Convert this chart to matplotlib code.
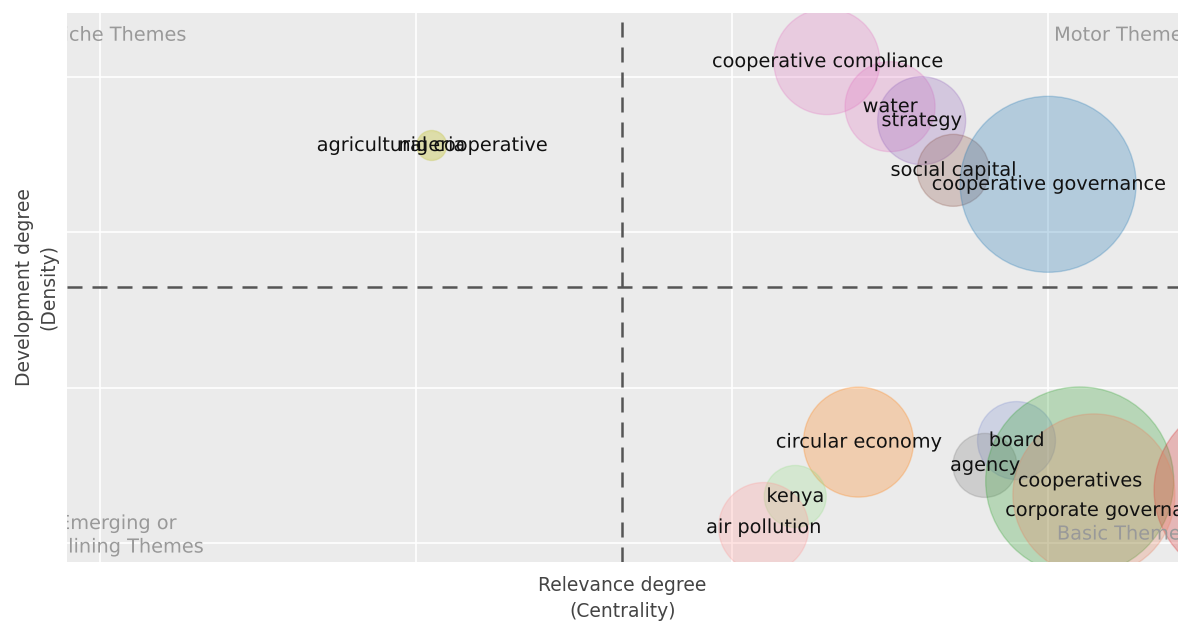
import matplotlib.pyplot as plt
import matplotlib.patheffects as pe

# cluster data (centrality, density, bubble size)
labels = ['agricultural cooperative', 'nigeria', 'cooperative compliance', 'water',
          'strategy', 'social capital', 'cooperative governance', 'circular economy',
          'kenya', 'air pollution', 'board', 'agency', 'cooperatives', '',
          'corporate governance']
centrality = [1.05, 1.05, 2.30, 2.50, 2.60, 2.70, 3.00, 2.40, 2.20, 2.10, 2.90, 2.80, 3.10, 3.62, 3.145]
density = [2.56, 2.56, 3.10, 2.81, 2.72, 2.40, 2.31, 0.65, 0.30, 0.10, 0.66, 0.50, 0.40, 0.34, 0.31]
size = [15, 14, 53, 45, 44, 36, 88, 55, 31, 45, 39, 32, 94, 90, 81]
colors = ['#bcbd22', '#dbdb8d', '#e377c2', '#e377c2', '#9467bd', '#8c564b', '#1f77b4',
          '#ff7f0e', '#98df8a', '#ff9896', '#7f8fd0', '#7f7f7f', '#2ca02c', '#d62728',
          '#e8805e']
# labels placed a bit off their bubble centre
label_nudge = {'corporate governance': (0.055, -0.10)}

x_mid = 1.652
y_mid = 1.648

fig = plt.figure(figsize=(11.81, 6.21), dpi=100)
ax = fig.add_axes([67 / 1181, 59 / 621, 1111 / 1181, 549 / 621])
ax.set_facecolor('#ebebeb')
for s in ax.spines.values():
    s.set_visible(False)

ax.set_xlim(-0.104, 3.411)
ax.set_ylim(-0.122, 3.413)
ax.set_xticks([0, 1, 2, 3])
ax.set_yticks([0, 1, 2, 3])
ax.tick_params(length=0, labelbottom=False, labelleft=False)
ax.grid(True, color='white', linewidth=1.2)
ax.set_axisbelow(True)

# bubble diameter in points from pixel radius
sizes_pt = [(2 * r * 72 / 100) ** 2 for r in size]
ax.scatter(centrality, density, s=sizes_pt, c=colors, alpha=0.27,
           edgecolors=colors, linewidths=1, zorder=2)

# drawing text through path effects lets it be clipped at the axes edge
clip_fx = [pe.Normal()]

for lab, x, y in zip(labels, centrality, density):
    dx, dy = label_nudge.get(lab, (0, 0))
    ax.text(x + dx, y + dy, lab, ha='center', va='center', fontsize=13.9, color='#111111',
            zorder=4, clip_on=True, path_effects=clip_fx)

ax.axvline(x_mid, color='#555555', linestyle=(0, (6, 4)), linewidth=1.8, zorder=3)
ax.axhline(y_mid, color='#555555', linestyle=(0, (6, 4)), linewidth=1.8, zorder=3)

qcol = '#999999'
qfs = 13.9
ax.text(0.272, 3.27, 'Niche Themes', ha='right', va='center', fontsize=qfs, color=qcol,
        clip_on=True, path_effects=clip_fx)
ax.text(3.019, 3.27, 'Motor Themes', ha='left', va='center', fontsize=qfs, color=qcol,
        clip_on=True, path_effects=clip_fx)
ax.text(0.054, 0.05, 'Emerging or\nDeclining Themes', ha='center', va='center',
        fontsize=qfs, color=qcol, linespacing=1.3, clip_on=True, path_effects=clip_fx)
ax.text(3.028, 0.058, 'Basic Themes', ha='left', va='center', fontsize=qfs,
        color=qcol, zorder=5, clip_on=True, path_effects=clip_fx)

ax.set_xlabel('Relevance degree\n(Centrality)', fontsize=13.5, color='#444444', labelpad=10,
              linespacing=1.5)
ax.set_ylabel('Development degree\n(Density)', fontsize=13.5, color='#444444', labelpad=6,
              linespacing=1.35)

fig.savefig('out.png', dpi=100)
